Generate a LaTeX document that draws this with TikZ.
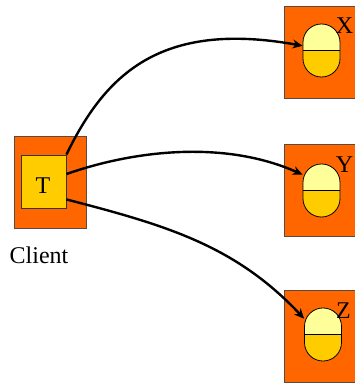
\documentclass[tikz,border=0pt]{standalone}
\usepackage{fontspec}
\setmainfont{Liberation Serif}
\usetikzlibrary{arrows.meta}
\definecolor{boxorange}{HTML}{FF6600}
\definecolor{boxgold}{HTML}{FFCC00}
\definecolor{boxpale}{HTML}{FFFF99}
\definecolor{boxedge}{HTML}{5A4A40}
\tikzset{
  host/.style={rectangle,draw=boxedge,line width=0.9pt,fill=boxorange,minimum width=72pt,minimum height=92pt,inner sep=0pt},
  inner box/.style={rectangle,draw=black!80,line width=0.9pt,fill=boxgold,minimum width=45pt,minimum height=53pt,inner sep=0pt},
  capsule/.style={rectangle,rounded corners=18.4pt,draw=black,line width=0.8pt,fill=boxpale,minimum width=37pt,minimum height=53pt,inner sep=0pt,
    path picture={
      \fill[boxgold,sharp corners] (path picture bounding box.west) rectangle (path picture bounding box.south east);
      \draw[black,line width=1pt,sharp corners] (path picture bounding box.west) -- (path picture bounding box.east);
    }},
  label text/.style={inner sep=0pt,anchor=base,font=\fontsize{24}{24}\selectfont},
  link/.style={line width=2.4pt,black,-{Stealth[length=10pt,width=9pt]}}
}
\begin{document}
\begin{tikzpicture}[x=1pt,y=-1pt]
\clip (0,0) rectangle (355,383);
\node[host,minimum width=76pt] (hx) at (322,52) {};
\node[host,minimum width=76pt] (hy) at (322,190) {};
\node[host,minimum width=76pt] (hz) at (322,336) {};
\node[host] (hc) at (50,182.5) {};
\node[inner box] (T) at (43.5,181.5) {};
\node[capsule] (cx) at (321.5,50.5) {};
\node[capsule] (cy) at (321.5,190.5) {};
\node[capsule] (cz) at (323,334.5) {};
\node[label text] (lt) at (43,193) {T};
\node[label text] (lx) at (344.5,33) {X};
\node[label text] (ly) at (344.5,172) {Y};
\node[label text] (lz) at (343.5,318) {Z};
\node[label text] (client) at (39,263) {Client};
\draw[link] (T.north east) .. controls (105,75) and (160,20) .. (cx.166);
\draw[link] (T.18) .. controls (135,150) and (225,140) .. (cy.140);
\draw[link] (T.-38) .. controls (165,225) and (235,245) .. (cz.140);
\end{tikzpicture}
\end{document}
